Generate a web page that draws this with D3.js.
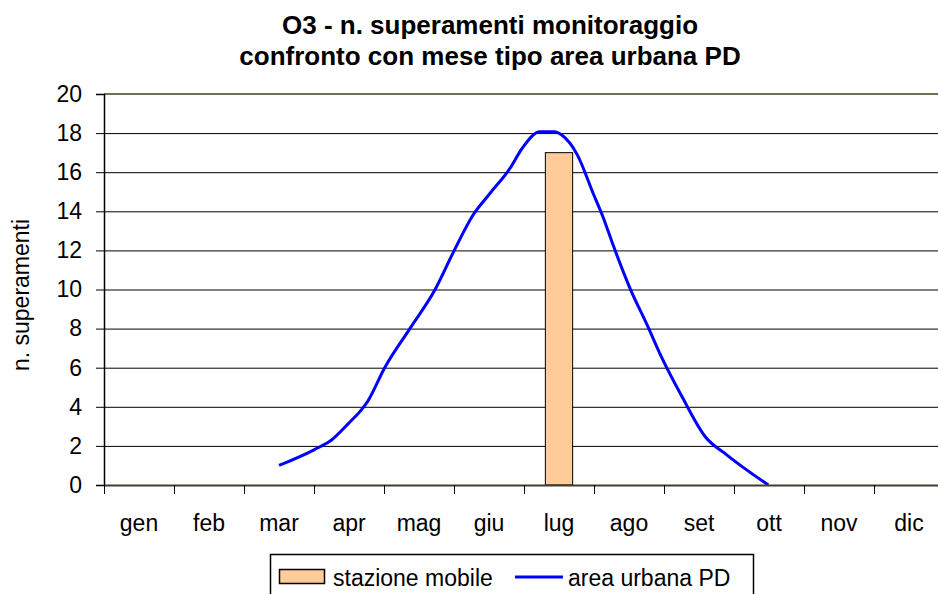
<!DOCTYPE html>
<html>
<head>
<meta charset="utf-8">
<script src="https://cdn.jsdelivr.net/npm/d3@7"></script>
<style>
  body { margin: 0; background: #fff; }
  svg { display: block; font-family: Arial, "Liberation Sans", sans-serif; }
</style>
</head>
<body>
<svg id="chart" width="938" height="594"></svg>
<script>
// categories and series
var months = ['gen', 'feb', 'mar', 'apr', 'mag', 'giu', 'lug', 'ago', 'set', 'ott', 'nov', 'dic'];
var stazioneMobile = [null, null, null, null, null, null, 17, null, null, null, null, null];
// area urbana PD: position in months (0 = gen) and value
var urbanPos = [2.0, 2.5, 2.75, 2.98, 3.27, 3.51, 3.87, 4.23, 4.49, 4.77, 5.01, 5.3, 5.47, 5.73, 5.94, 6.04, 6.26, 6.49, 6.63, 6.76, 7.01, 7.27, 7.47, 7.76, 8.09, 8.4, 8.99];
var urbanVal = [1.0, 1.8, 2.3, 3.1, 4.3, 6.0, 8.0, 10.0, 11.9, 13.8, 14.9, 16.2, 17.2, 18.07, 18.07, 17.9, 16.9, 14.9, 13.7, 12.4, 10.1, 8.1, 6.5, 4.5, 2.47, 1.53, 0];
var yTicks = [0, 2, 4, 6, 8, 10, 12, 14, 16, 18, 20];

(function () {
  var plotLeft = 104, plotRight = 944, plotTop = 94, plotBottom = 485;
  var font = 'Arial, "Liberation Sans", sans-serif';
  var svg = d3.select('#chart');

  var x = d3.scaleBand().domain(months).range([plotLeft, plotRight]).padding(0);
  var xPos = d3.scaleLinear().domain([-0.5, 11.5]).range([plotLeft, plotRight]);
  var y = d3.scaleLinear().domain([0, 20]).range([plotBottom, plotTop]);

  // title
  var title = svg.append('g').attr('text-anchor', 'middle')
    .style('font-weight', 'bold').style('font-size', '26px');
  title.append('text').attr('x', 490).attr('y', 34).text('O3 - n. superamenti monitoraggio');
  title.append('text').attr('x', 490).attr('y', 65).text('confronto con mese tipo area urbana PD');

  // gridlines
  svg.append('g').selectAll('line')
    .data(yTicks.filter(function (d) { return d > 0 && d < 20; }))
    .enter().append('line')
    .attr('x1', plotLeft).attr('x2', plotRight)
    .attr('y1', function (d) { return y(d) + 0.5; })
    .attr('y2', function (d) { return y(d) + 0.5; })
    .attr('stroke', '#000').attr('stroke-width', 1);

  svg.append('line')
    .attr('x1', plotLeft).attr('x2', plotRight)
    .attr('y1', y(20)).attr('y2', y(20))
    .attr('stroke', '#6f6f55').attr('stroke-width', 2);

  // bars
  var barW = x.bandwidth() * 0.39;
  svg.append('g').selectAll('rect')
    .data(months.map(function (m, i) { return { m: m, v: stazioneMobile[i] }; })
      .filter(function (d) { return d.v != null; }))
    .enter().append('rect')
    .attr('x', function (d) { return x(d.m) + (x.bandwidth() - barW) / 2; })
    .attr('y', function (d) { return y(d.v); })
    .attr('width', barW)
    .attr('height', function (d) { return y(0) - y(d.v); })
    .attr('fill', '#ffcc99').attr('stroke', '#000').attr('stroke-width', 1);

  // line
  var line = d3.line()
    .x(function (d) { return xPos(d[0]); })
    .y(function (d) { return y(d[1]); })
    .curve(d3.curveMonotoneX);
  svg.append('path')
    .datum(d3.zip(urbanPos, urbanVal))
    .attr('d', line)
    .attr('fill', 'none').attr('stroke', '#0000ff').attr('stroke-width', 3)
    .attr('stroke-linejoin', 'round');

  // y axis
  var yAxis = svg.append('g')
    .attr('transform', 'translate(' + plotLeft + ',0)')
    .call(d3.axisLeft(y).tickValues(yTicks).tickSize(8).tickPadding(14));
  yAxis.select('.domain').attr('stroke', '#000').attr('stroke-width', 1.5);
  yAxis.selectAll('.tick line').attr('stroke', '#000');
  yAxis.selectAll('text').style('font-size', '23px').attr('fill', '#000')
    .style('font-family', font);

  // x axis
  var xAxis = svg.append('g')
    .attr('transform', 'translate(0,' + plotBottom + ')')
    .call(d3.axisBottom(x).tickSize(0).tickPadding(30));
  xAxis.select('.domain').attr('stroke', '#3f3f30').attr('stroke-width', 2);
  xAxis.selectAll('text').style('font-size', '23px').attr('fill', '#000')
    .style('font-family', font);
  svg.append('g').selectAll('line')
    .data(months)
    .enter().append('line')
    .attr('x1', function (d) { return x(d) + 0.5; })
    .attr('x2', function (d) { return x(d) + 0.5; })
    .attr('y1', plotBottom).attr('y2', plotBottom + 9)
    .attr('stroke', '#000');

  // y label
  svg.append('text')
    .attr('transform', 'translate(29,295) rotate(-90)')
    .attr('text-anchor', 'middle')
    .style('font-size', '23px')
    .text('n. superamenti');

  // legend
  var legend = svg.append('g');
  legend.append('rect')
    .attr('x', 270.5).attr('y', 554.5).attr('width', 483).attr('height', 50)
    .attr('fill', '#fff').attr('stroke', '#000').attr('stroke-width', 1.5);
  legend.append('rect')
    .attr('x', 279.5).attr('y', 569.5).attr('width', 45).attr('height', 14)
    .attr('fill', '#ffcc99').attr('stroke', '#000').attr('stroke-width', 1.5);
  legend.append('text').attr('x', 333).attr('y', 586).style('font-size', '23px').text('stazione mobile');
  legend.append('line')
    .attr('x1', 515).attr('x2', 563).attr('y1', 577).attr('y2', 577)
    .attr('stroke', '#0000ff').attr('stroke-width', 3);
  legend.append('text').attr('x', 568).attr('y', 586).style('font-size', '23px').text('area urbana PD');
})();
</script>
</body>
</html>
